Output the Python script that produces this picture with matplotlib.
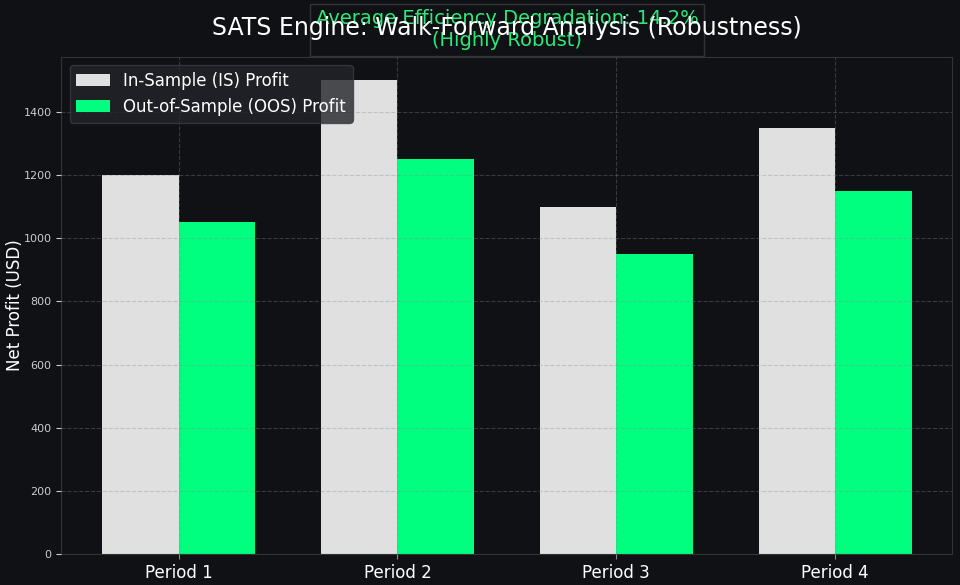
import numpy as np
import matplotlib
matplotlib.use('Agg')
import matplotlib.pyplot as plt

plt.rcParams['font.family'] = ['DejaVu Sans']

periods = ['Period 1', 'Period 2', 'Period 3', 'Period 4']
is_profit = [1200, 1500, 1100, 1350]
oos_profit = [1050, 1250, 950, 1150]
avg_degradation = 14.2

bg = '#0f1115'
fig, ax = plt.subplots(figsize=(9.6, 5.85), dpi=100)
fig.patch.set_facecolor(bg)
ax.set_facecolor(bg)

x = np.arange(len(periods))
w = 0.35
ax.bar(x - w / 2, is_profit, w, color='#e0e0e0', label='In-Sample (IS) Profit')
ax.bar(x + w / 2, oos_profit, w, color='#00ff7f', label='Out-of-Sample (OOS) Profit')

ax.set_xticks(x)
ax.set_xticklabels(periods, fontsize=12, color='white')
ax.tick_params(axis='y', colors='#cccccc', labelsize=8)
ax.tick_params(axis='x', colors='#888888')
for lab in ax.get_xticklabels():
    lab.set_color('white')
ax.set_ylabel('Net Profit (USD)', fontsize=12, color='white', labelpad=0)

ax.text(0.5, 1.054, f'Average Efficiency Degradation: {avg_degradation}%\n(Highly Robust)',
        transform=ax.transAxes, ha='center', va='center', fontsize=14, color='#2ee87a',
        zorder=1,
        bbox=dict(boxstyle='square,pad=0.3', facecolor=bg, edgecolor='#3a3c42', alpha=0.8))
ttl = ax.set_title('SATS Engine: Walk-Forward Analysis (Robustness)', fontsize=17, color='white', pad=16)
ttl.set_zorder(10)

ax.grid(True, linestyle='--', color='#888888', alpha=0.35)
ax.set_axisbelow(False)
for s in ax.spines.values():
    s.set_color('#333333')

leg = ax.legend(loc='upper left', fontsize=12, facecolor='#22252a', edgecolor='#3a3c42', framealpha=0.8)
for t in leg.get_texts():
    t.set_color('white')

fig.subplots_adjust(left=0.064, right=0.992, top=0.903, bottom=0.053)
fig.savefig('out.png', facecolor=bg)
